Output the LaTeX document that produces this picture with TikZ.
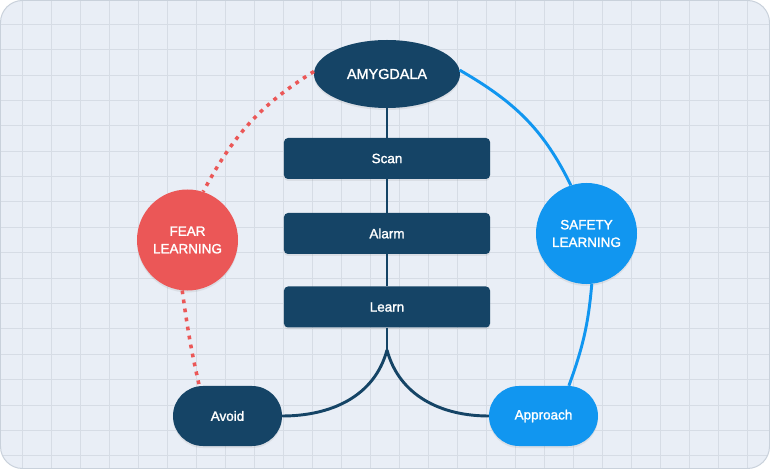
\documentclass[tikz,border=0pt]{standalone}
\usepackage{fontspec}
\setmainfont{Liberation Sans}[FakeBold=1.6]
\usetikzlibrary{shapes.geometric,shadows}
\definecolor{navy}{HTML}{154466}
\definecolor{fearred}{HTML}{EB5757}
\definecolor{safeblue}{HTML}{1196F0}
\definecolor{nen}{HTML}{E9EEF6}
\definecolor{luoi}{HTML}{D6DCE5}
\definecolor{vienngoai}{HTML}{C9D1DB}

\begin{document}
\begin{tikzpicture}
[x=0.03cm,y=0.03cm, % 1 don vi = 1 pixel
font=\fontsize{11.5}{15}\selectfont, % co chu
bong/.style={drop shadow={shadow xshift=0pt,shadow yshift=-0.06cm,opacity=0.14}}, % bong mo
hop/.style={rectangle,rounded corners=0.12cm,fill=navy,text=white,minimum width=6.18cm,minimum height=1.23cm,bong}, % hop giua
tron/.style={circle,minimum size=3.03cm,inner sep=0pt,text=white,align=center,bong}, % hinh tron
vien/.style={rectangle,rounded corners=0.9cm,minimum width=3.27cm,minimum height=1.8cm,text=white,bong}, % hinh vien
day/.style={line width=2.5pt,navy}, % duong xanh dam
chamdo/.style={line width=3pt,fearred,dash pattern=on 3.2pt off 4.6pt}, % duong cham do
xanh/.style={line width=2.5pt,safeblue} % duong xanh
] % tuy chon
\useasboundingbox (0,0) rectangle (770,469);
\fill[white] (0,0) rectangle (770,469); % nen trang
\begin{scope}
\clip[rounded corners=0.66cm] (0.5,0.5) rectangle (769.5,468.5);
\fill[nen] (0,0) rectangle (770,469);
\foreach \i in {0,...,25} \draw[luoi,line width=0.8pt] (22.3+29*\i,0) -- (22.3+29*\i,469); % luoi doc
\foreach \j in {0,...,17} \draw[luoi,line width=0.8pt] (0,444.7-25.38*\j) -- (770,444.7-25.38*\j); % luoi ngang
\end{scope}
\draw[vienngoai,line width=0.85pt,rounded corners=0.66cm] (0.5,0.5) rectangle (769.5,468.5); % khung

\node[ellipse,fill=navy,text=white,minimum width=4.38cm,minimum height=2.04cm,inner sep=0pt,bong,font=\fontsize{12.3}{14}\selectfont] (amy) at (387,395) {AMYGDALA};
\node[hop] (scan) at (387,310.5) {Scan};
\node[hop] (alarm) at (387,235.5) {Alarm};
\node[hop] (learn) at (387,162) {Learn};
\node[tron,fill=fearred] (fear) at (187.5,229) {FEAR\\LEARNING};
\node[tron,fill=safeblue] (safety) at (586.5,235.5) {SAFETY\\LEARNING};
\node[vien,fill=navy] (avoid) at (227.5,53) {Avoid};
\node[vien,fill=safeblue] (approach) at (543.5,53) {Approach};
\coordinate (fork) at (387,119); % diem re nhanh

\draw[day] (amy) -- (scan);
\draw[day] (scan) -- (alarm);
\draw[day] (alarm) -- (learn);
\draw[day] (learn) -- (fork);
\draw[day] (fork) to[out=-105,in=0] (avoid.east); % nhanh trai
\draw[day] (fork) to[out=-75,in=180] (approach.west); % nhanh phai
\draw[chamdo] (amy.178) to[out=212,in=62] (fear.72);
\draw[chamdo] (fear.264) to[out=-82,in=103] (avoid.133);
\draw[xanh] (amy.3) to[out=-30,in=116] (safety.108);
\draw[xanh] (safety.276) to[out=-95,in=70] (approach.50);
\end{tikzpicture}
\end{document}
